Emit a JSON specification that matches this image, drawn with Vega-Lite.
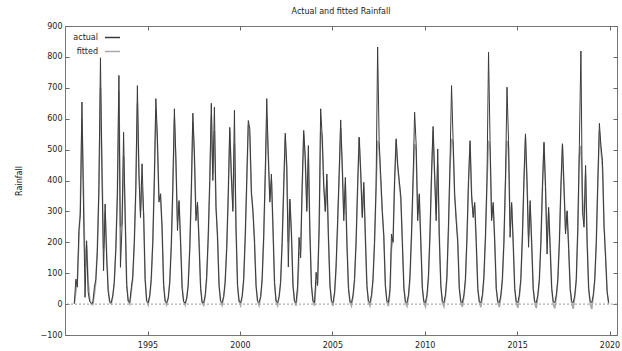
{
  "$schema": "https://vega.github.io/schema/vega-lite/v6.json",
  "width": 552,
  "height": 309,
  "autosize": {"type": "none"},
  "padding": {"left": 65, "top": 26, "right": 5, "bottom": 16},
  "background": "white",
  "title": {"text": "Actual and fitted Rainfall", "fontSize": 8, "fontWeight": "normal", "color": "#222", "offset": 6, "font": "DejaVu Sans"},
  "datasets": {
    "rain": [
{"date":"1991-01-15","actual":2,"fitted":0},{"date":"1991-02-15","actual":81,"fitted":40},{"date":"1991-03-15","actual":55,"fitted":70},{"date":"1991-04-15","actual":238,"fitted":200},{"date":"1991-05-15","actual":290,"fitted":330},{"date":"1991-06-15","actual":654,"fitted":600},{"date":"1991-07-15","actual":330,"fitted":380},{"date":"1991-08-15","actual":22,"fitted":120},{"date":"1991-09-15","actual":205,"fitted":190},{"date":"1991-10-15","actual":40,"fitted":80},{"date":"1991-11-15","actual":8,"fitted":15},{"date":"1991-12-15","actual":3,"fitted":0},
{"date":"1992-01-15","actual":3,"fitted":-2},{"date":"1992-02-15","actual":54,"fitted":30},{"date":"1992-03-15","actual":80,"fitted":70},{"date":"1992-04-15","actual":170,"fitted":190},{"date":"1992-05-15","actual":380,"fitted":360},{"date":"1992-06-15","actual":797,"fitted":700},{"date":"1992-07-15","actual":420,"fitted":450},{"date":"1992-08-15","actual":108,"fitted":180},{"date":"1992-09-15","actual":324,"fitted":300},{"date":"1992-10-15","actual":150,"fitted":170},{"date":"1992-11-15","actual":40,"fitted":50},{"date":"1992-12-15","actual":8,"fitted":5},
{"date":"1993-01-15","actual":5,"fitted":0},{"date":"1993-02-15","actual":30,"fitted":25},{"date":"1993-03-15","actual":70,"fitted":70},{"date":"1993-04-15","actual":180,"fitted":180},{"date":"1993-05-15","actual":350,"fitted":360},{"date":"1993-06-15","actual":740,"fitted":690},{"date":"1993-07-15","actual":119,"fitted":250},{"date":"1993-08-15","actual":250,"fitted":260},{"date":"1993-09-15","actual":556,"fitted":480},{"date":"1993-10-15","actual":292,"fitted":300},{"date":"1993-11-15","actual":60,"fitted":70},{"date":"1993-12-15","actual":10,"fitted":10},
{"date":"1994-01-15","actual":5,"fitted":0},{"date":"1994-02-15","actual":54,"fitted":40},{"date":"1994-03-15","actual":90,"fitted":80},{"date":"1994-04-15","actual":200,"fitted":200},{"date":"1994-05-15","actual":380,"fitted":370},{"date":"1994-06-15","actual":707,"fitted":650},{"date":"1994-07-15","actual":420,"fitted":440},{"date":"1994-08-15","actual":280,"fitted":300},{"date":"1994-09-15","actual":454,"fitted":380},{"date":"1994-10-15","actual":300,"fitted":290},{"date":"1994-11-15","actual":80,"fitted":80},{"date":"1994-12-15","actual":10,"fitted":10},
{"date":"1995-01-15","actual":5,"fitted":-3},{"date":"1995-02-15","actual":30,"fitted":25},{"date":"1995-03-15","actual":80,"fitted":75},{"date":"1995-04-15","actual":200,"fitted":200},{"date":"1995-05-15","actual":400,"fitted":390},{"date":"1995-06-15","actual":665,"fitted":630},{"date":"1995-07-15","actual":540,"fitted":520},{"date":"1995-08-15","actual":330,"fitted":340},{"date":"1995-09-15","actual":357,"fitted":350},{"date":"1995-10-15","actual":250,"fitted":250},{"date":"1995-11-15","actual":60,"fitted":70},{"date":"1995-12-15","actual":10,"fitted":10},
{"date":"1996-01-15","actual":5,"fitted":-3},{"date":"1996-02-15","actual":20,"fitted":20},{"date":"1996-03-15","actual":70,"fitted":70},{"date":"1996-04-15","actual":190,"fitted":190},{"date":"1996-05-15","actual":380,"fitted":370},{"date":"1996-06-15","actual":632,"fitted":600},{"date":"1996-07-15","actual":470,"fitted":460},{"date":"1996-08-15","actual":238,"fitted":270},{"date":"1996-09-15","actual":335,"fitted":330},{"date":"1996-10-15","actual":200,"fitted":210},{"date":"1996-11-15","actual":50,"fitted":60},{"date":"1996-12-15","actual":8,"fitted":8},
{"date":"1997-01-15","actual":3,"fitted":-4},{"date":"1997-02-15","actual":20,"fitted":20},{"date":"1997-03-15","actual":60,"fitted":65},{"date":"1997-04-15","actual":180,"fitted":180},{"date":"1997-05-15","actual":360,"fitted":360},{"date":"1997-06-15","actual":618,"fitted":590},{"date":"1997-07-15","actual":492,"fitted":480},{"date":"1997-08-15","actual":270,"fitted":290},{"date":"1997-09-15","actual":330,"fitted":320},{"date":"1997-10-15","actual":200,"fitted":210},{"date":"1997-11-15","actual":50,"fitted":60},{"date":"1997-12-15","actual":5,"fitted":5},
{"date":"1998-01-15","actual":5,"fitted":-4},{"date":"1998-02-15","actual":30,"fitted":25},{"date":"1998-03-15","actual":90,"fitted":80},{"date":"1998-04-15","actual":220,"fitted":210},{"date":"1998-05-15","actual":400,"fitted":390},{"date":"1998-06-15","actual":650,"fitted":610},{"date":"1998-07-15","actual":400,"fitted":420},{"date":"1998-08-15","actual":637,"fitted":560},{"date":"1998-09-15","actual":313,"fitted":320},{"date":"1998-10-15","actual":220,"fitted":220},{"date":"1998-11-15","actual":60,"fitted":60},{"date":"1998-12-15","actual":10,"fitted":8},
{"date":"1999-01-15","actual":5,"fitted":-4},{"date":"1999-02-15","actual":25,"fitted":25},{"date":"1999-03-15","actual":70,"fitted":70},{"date":"1999-04-15","actual":180,"fitted":180},{"date":"1999-05-15","actual":350,"fitted":350},{"date":"1999-06-15","actual":572,"fitted":560},{"date":"1999-07-15","actual":420,"fitted":420},{"date":"1999-08-15","actual":300,"fitted":310},{"date":"1999-09-15","actual":627,"fitted":520},{"date":"1999-10-15","actual":250,"fitted":260},{"date":"1999-11-15","actual":60,"fitted":60},{"date":"1999-12-15","actual":10,"fitted":8},
{"date":"2000-01-15","actual":5,"fitted":-5},{"date":"2000-02-15","actual":25,"fitted":25},{"date":"2000-03-15","actual":80,"fitted":75},{"date":"2000-04-15","actual":220,"fitted":210},{"date":"2000-05-15","actual":400,"fitted":390},{"date":"2000-06-15","actual":594,"fitted":580},{"date":"2000-07-15","actual":567,"fitted":540},{"date":"2000-08-15","actual":362,"fitted":360},{"date":"2000-09-15","actual":300,"fitted":300},{"date":"2000-10-15","actual":200,"fitted":210},{"date":"2000-11-15","actual":60,"fitted":60},{"date":"2000-12-15","actual":10,"fitted":8},
{"date":"2001-01-15","actual":5,"fitted":-5},{"date":"2001-02-15","actual":25,"fitted":25},{"date":"2001-03-15","actual":80,"fitted":75},{"date":"2001-04-15","actual":220,"fitted":210},{"date":"2001-05-15","actual":420,"fitted":400},{"date":"2001-06-15","actual":665,"fitted":600},{"date":"2001-07-15","actual":480,"fitted":480},{"date":"2001-08-15","actual":330,"fitted":340},{"date":"2001-09-15","actual":421,"fitted":400},{"date":"2001-10-15","actual":250,"fitted":250},{"date":"2001-11-15","actual":70,"fitted":70},{"date":"2001-12-15","actual":10,"fitted":8},
{"date":"2002-01-15","actual":5,"fitted":-5},{"date":"2002-02-15","actual":25,"fitted":25},{"date":"2002-03-15","actual":70,"fitted":70},{"date":"2002-04-15","actual":200,"fitted":200},{"date":"2002-05-15","actual":380,"fitted":370},{"date":"2002-06-15","actual":553,"fitted":540},{"date":"2002-07-15","actual":450,"fitted":440},{"date":"2002-08-15","actual":120,"fitted":200},{"date":"2002-09-15","actual":340,"fitted":330},{"date":"2002-10-15","actual":230,"fitted":230},{"date":"2002-11-15","actual":60,"fitted":60},{"date":"2002-12-15","actual":10,"fitted":8},
{"date":"2003-01-15","actual":5,"fitted":-5},{"date":"2003-02-15","actual":60,"fitted":40},{"date":"2003-03-15","actual":216,"fitted":160},{"date":"2003-04-15","actual":150,"fitted":170},{"date":"2003-05-15","actual":380,"fitted":370},{"date":"2003-06-15","actual":562,"fitted":550},{"date":"2003-07-15","actual":475,"fitted":470},{"date":"2003-08-15","actual":300,"fitted":310},{"date":"2003-09-15","actual":513,"fitted":470},{"date":"2003-10-15","actual":230,"fitted":240},{"date":"2003-11-15","actual":60,"fitted":60},{"date":"2003-12-15","actual":10,"fitted":8},
{"date":"2004-01-15","actual":5,"fitted":-5},{"date":"2004-02-15","actual":103,"fitted":70},{"date":"2004-03-15","actual":60,"fitted":70},{"date":"2004-04-15","actual":250,"fitted":240},{"date":"2004-05-15","actual":632,"fitted":560},{"date":"2004-06-15","actual":540,"fitted":540},{"date":"2004-07-15","actual":380,"fitted":390},{"date":"2004-08-15","actual":300,"fitted":300},{"date":"2004-09-15","actual":421,"fitted":400},{"date":"2004-10-15","actual":220,"fitted":220},{"date":"2004-11-15","actual":60,"fitted":60},{"date":"2004-12-15","actual":10,"fitted":8},
{"date":"2005-01-15","actual":5,"fitted":-6},{"date":"2005-02-15","actual":40,"fitted":35},{"date":"2005-03-15","actual":120,"fitted":110},{"date":"2005-04-15","actual":270,"fitted":250},{"date":"2005-05-15","actual":420,"fitted":410},{"date":"2005-06-15","actual":596,"fitted":570},{"date":"2005-07-15","actual":450,"fitted":450},{"date":"2005-08-15","actual":270,"fitted":290},{"date":"2005-09-15","actual":410,"fitted":390},{"date":"2005-10-15","actual":200,"fitted":210},{"date":"2005-11-15","actual":50,"fitted":60},{"date":"2005-12-15","actual":8,"fitted":6},
{"date":"2006-01-15","actual":5,"fitted":-6},{"date":"2006-02-15","actual":30,"fitted":25},{"date":"2006-03-15","actual":80,"fitted":75},{"date":"2006-04-15","actual":200,"fitted":200},{"date":"2006-05-15","actual":380,"fitted":370},{"date":"2006-06-15","actual":540,"fitted":540},{"date":"2006-07-15","actual":430,"fitted":430},{"date":"2006-08-15","actual":280,"fitted":290},{"date":"2006-09-15","actual":394,"fitted":380},{"date":"2006-10-15","actual":220,"fitted":220},{"date":"2006-11-15","actual":60,"fitted":60},{"date":"2006-12-15","actual":10,"fitted":6},
{"date":"2007-01-15","actual":5,"fitted":-6},{"date":"2007-02-15","actual":30,"fitted":25},{"date":"2007-03-15","actual":80,"fitted":75},{"date":"2007-04-15","actual":200,"fitted":200},{"date":"2007-05-15","actual":380,"fitted":370},{"date":"2007-06-15","actual":832,"fitted":529},{"date":"2007-07-15","actual":529,"fitted":500},{"date":"2007-08-15","actual":416,"fitted":400},{"date":"2007-09-15","actual":300,"fitted":300},{"date":"2007-10-15","actual":220,"fitted":220},{"date":"2007-11-15","actual":60,"fitted":60},{"date":"2007-12-15","actual":10,"fitted":6},
{"date":"2008-01-15","actual":5,"fitted":-7},{"date":"2008-02-15","actual":50,"fitted":40},{"date":"2008-03-15","actual":227,"fitted":180},{"date":"2008-04-15","actual":200,"fitted":210},{"date":"2008-05-15","actual":400,"fitted":390},{"date":"2008-06-15","actual":535,"fitted":530},{"date":"2008-07-15","actual":450,"fitted":450},{"date":"2008-08-15","actual":400,"fitted":390},{"date":"2008-09-15","actual":350,"fitted":340},{"date":"2008-10-15","actual":200,"fitted":210},{"date":"2008-11-15","actual":50,"fitted":55},{"date":"2008-12-15","actual":8,"fitted":5},
{"date":"2009-01-15","actual":5,"fitted":-7},{"date":"2009-02-15","actual":30,"fitted":25},{"date":"2009-03-15","actual":90,"fitted":80},{"date":"2009-04-15","actual":230,"fitted":220},{"date":"2009-05-15","actual":400,"fitted":390},{"date":"2009-06-15","actual":621,"fitted":518},{"date":"2009-07-15","actual":518,"fitted":500},{"date":"2009-08-15","actual":270,"fitted":290},{"date":"2009-09-15","actual":357,"fitted":350},{"date":"2009-10-15","actual":200,"fitted":210},{"date":"2009-11-15","actual":50,"fitted":55},{"date":"2009-12-15","actual":8,"fitted":5},
{"date":"2010-01-15","actual":5,"fitted":-8},{"date":"2010-02-15","actual":30,"fitted":25},{"date":"2010-03-15","actual":90,"fitted":80},{"date":"2010-04-15","actual":230,"fitted":220},{"date":"2010-05-15","actual":420,"fitted":410},{"date":"2010-06-15","actual":575,"fitted":560},{"date":"2010-07-15","actual":420,"fitted":420},{"date":"2010-08-15","actual":270,"fitted":290},{"date":"2010-09-15","actual":502,"fitted":450},{"date":"2010-10-15","actual":220,"fitted":230},{"date":"2010-11-15","actual":60,"fitted":60},{"date":"2010-12-15","actual":10,"fitted":5},
{"date":"2011-01-15","actual":5,"fitted":-8},{"date":"2011-02-15","actual":30,"fitted":25},{"date":"2011-03-15","actual":90,"fitted":80},{"date":"2011-04-15","actual":250,"fitted":240},{"date":"2011-05-15","actual":450,"fitted":440},{"date":"2011-06-15","actual":707,"fitted":535},{"date":"2011-07-15","actual":535,"fitted":520},{"date":"2011-08-15","actual":357,"fitted":350},{"date":"2011-09-15","actual":270,"fitted":280},{"date":"2011-10-15","actual":200,"fitted":210},{"date":"2011-11-15","actual":50,"fitted":55},{"date":"2011-12-15","actual":8,"fitted":5},
{"date":"2012-01-15","actual":5,"fitted":-9},{"date":"2012-02-15","actual":30,"fitted":25},{"date":"2012-03-15","actual":80,"fitted":75},{"date":"2012-04-15","actual":220,"fitted":210},{"date":"2012-05-15","actual":400,"fitted":390},{"date":"2012-06-15","actual":529,"fitted":520},{"date":"2012-07-15","actual":350,"fitted":360},{"date":"2012-08-15","actual":280,"fitted":290},{"date":"2012-09-15","actual":329,"fitted":320},{"date":"2012-10-15","actual":200,"fitted":200},{"date":"2012-11-15","actual":50,"fitted":50},{"date":"2012-12-15","actual":8,"fitted":4},
{"date":"2013-01-15","actual":5,"fitted":-10},{"date":"2013-02-15","actual":30,"fitted":25},{"date":"2013-03-15","actual":90,"fitted":80},{"date":"2013-04-15","actual":220,"fitted":210},{"date":"2013-05-15","actual":400,"fitted":390},{"date":"2013-06-15","actual":815,"fitted":529},{"date":"2013-07-15","actual":529,"fitted":500},{"date":"2013-08-15","actual":270,"fitted":280},{"date":"2013-09-15","actual":329,"fitted":320},{"date":"2013-10-15","actual":200,"fitted":210},{"date":"2013-11-15","actual":50,"fitted":50},{"date":"2013-12-15","actual":8,"fitted":4},
{"date":"2014-01-15","actual":5,"fitted":-10},{"date":"2014-02-15","actual":30,"fitted":25},{"date":"2014-03-15","actual":80,"fitted":75},{"date":"2014-04-15","actual":200,"fitted":200},{"date":"2014-05-15","actual":400,"fitted":390},{"date":"2014-06-15","actual":702,"fitted":529},{"date":"2014-07-15","actual":529,"fitted":510},{"date":"2014-08-15","actual":216,"fitted":250},{"date":"2014-09-15","actual":329,"fitted":320},{"date":"2014-10-15","actual":200,"fitted":200},{"date":"2014-11-15","actual":50,"fitted":50},{"date":"2014-12-15","actual":8,"fitted":3},
{"date":"2015-01-15","actual":5,"fitted":-12},{"date":"2015-02-15","actual":30,"fitted":25},{"date":"2015-03-15","actual":80,"fitted":75},{"date":"2015-04-15","actual":220,"fitted":210},{"date":"2015-05-15","actual":400,"fitted":390},{"date":"2015-06-15","actual":551,"fitted":540},{"date":"2015-07-15","actual":400,"fitted":400},{"date":"2015-08-15","actual":184,"fitted":220},{"date":"2015-09-15","actual":335,"fitted":320},{"date":"2015-10-15","actual":200,"fitted":200},{"date":"2015-11-15","actual":50,"fitted":50},{"date":"2015-12-15","actual":8,"fitted":2},
{"date":"2016-01-15","actual":5,"fitted":-13},{"date":"2016-02-15","actual":30,"fitted":25},{"date":"2016-03-15","actual":80,"fitted":75},{"date":"2016-04-15","actual":200,"fitted":200},{"date":"2016-05-15","actual":380,"fitted":370},{"date":"2016-06-15","actual":524,"fitted":520},{"date":"2016-07-15","actual":380,"fitted":380},{"date":"2016-08-15","actual":162,"fitted":200},{"date":"2016-09-15","actual":313,"fitted":300},{"date":"2016-10-15","actual":180,"fitted":190},{"date":"2016-11-15","actual":50,"fitted":50},{"date":"2016-12-15","actual":8,"fitted":0},
{"date":"2017-01-15","actual":5,"fitted":-14},{"date":"2017-02-15","actual":30,"fitted":25},{"date":"2017-03-15","actual":80,"fitted":75},{"date":"2017-04-15","actual":200,"fitted":200},{"date":"2017-05-15","actual":380,"fitted":370},{"date":"2017-06-15","actual":519,"fitted":515},{"date":"2017-07-15","actual":380,"fitted":380},{"date":"2017-08-15","actual":227,"fitted":240},{"date":"2017-09-15","actual":302,"fitted":300},{"date":"2017-10-15","actual":180,"fitted":190},{"date":"2017-11-15","actual":50,"fitted":50},{"date":"2017-12-15","actual":8,"fitted":0},
{"date":"2018-01-15","actual":5,"fitted":-15},{"date":"2018-02-15","actual":30,"fitted":25},{"date":"2018-03-15","actual":80,"fitted":75},{"date":"2018-04-15","actual":250,"fitted":240},{"date":"2018-05-15","actual":513,"fitted":480},{"date":"2018-06-15","actual":819,"fitted":513},{"date":"2018-07-15","actual":300,"fitted":350},{"date":"2018-08-15","actual":249,"fitted":260},{"date":"2018-09-15","actual":449,"fitted":420},{"date":"2018-10-15","actual":200,"fitted":210},{"date":"2018-11-15","actual":50,"fitted":50},{"date":"2018-12-15","actual":8,"fitted":0},
{"date":"2019-01-15","actual":5,"fitted":-16},{"date":"2019-02-15","actual":30,"fitted":25},{"date":"2019-03-15","actual":80,"fitted":75},{"date":"2019-04-15","actual":200,"fitted":200},{"date":"2019-05-15","actual":400,"fitted":390},{"date":"2019-06-15","actual":585,"fitted":560},{"date":"2019-07-15","actual":513,"fitted":500},{"date":"2019-08-15","actual":465,"fitted":440},{"date":"2019-09-15","actual":249,"fitted":260},{"date":"2019-10-15","actual":150,"fitted":160},{"date":"2019-11-15","actual":40,"fitted":40},{"date":"2019-12-15","actual":5,"fitted":0}
    ],
    "zero": [{"z": 0}]
  },
  "layer": [
    {
      "data": {"name": "zero"},
      "mark": {"type": "rule", "color": "#999", "strokeDash": [2, 2], "strokeWidth": 1},
      "encoding": {"y": {"field": "z", "type": "quantitative", "scale": {"domain": [-100, 900], "nice": false}, "axis": null}}
    },
    {
      "data": {"name": "rain"},
      "mark": {"type": "line", "strokeWidth": 1.5, "interpolate": "linear"},
      "encoding": {
        "x": {"field": "date", "type": "temporal",
              "scale": {"type": "utc", "domain": [{"year": 1990, "month": 7, "date": 15, "utc": true}, {"year": 2020, "month": 5, "date": 28, "utc": true}]},
              "axis": {"orient": "bottom", "title": null, "format": "%Y", "labelPadding": 10,
                       "values": [{"year": 1995, "utc": true}, {"year": 2000, "utc": true}, {"year": 2005, "utc": true}, {"year": 2010, "utc": true}, {"year": 2015, "utc": true}, {"year": 2020, "utc": true}]}},
        "y": {"field": "fitted", "type": "quantitative", "scale": {"domain": [-100, 900], "nice": false},
              "axis": {"orient": "left", "title": "Rainfall", "values": [-100, 0, 100, 200, 300, 400, 500, 600, 700, 800, 900], "titlePadding": 17, "titleColor": "#111"}},
        "color": {"datum": "fitted", "type": "nominal",
                  "scale": {"domain": ["actual", "fitted"], "range": ["#3a3a3a", "#a8a8a8"]},
                  "legend": {"orient": "none", "legendX": 0, "legendY": 3, "title": null, "symbolType": "stroke",
                             "symbolSize": 225, "symbolStrokeWidth": 1.5, "labelFontSize": 8, "labelColor": "#222",
                             "labelAlign": "right", "labelOffset": -23, "symbolOffset": 39, "rowPadding": 1, "padding": 0}}
      }
    },
    {
      "data": {"name": "rain"},
      "mark": {"type": "line", "strokeWidth": 1, "interpolate": "linear"},
      "encoding": {
        "x": {"field": "date", "type": "temporal",
              "axis": {"orient": "top", "title": null, "labels": false,
                       "values": [{"year": 1995, "utc": true}, {"year": 2000, "utc": true}, {"year": 2005, "utc": true}, {"year": 2010, "utc": true}, {"year": 2015, "utc": true}, {"year": 2020, "utc": true}]}},
        "y": {"field": "actual", "type": "quantitative",
              "axis": {"orient": "right", "title": null, "labels": false, "values": [-100, 0, 100, 200, 300, 400, 500, 600, 700, 800, 900]}},
        "color": {"datum": "actual", "type": "nominal"}
      }
    }
  ],
  "resolve": {"axis": {"x": "independent", "y": "independent"}},
  "config": {
    "font": "DejaVu Sans",
    "view": {"stroke": "#777", "strokeWidth": 1},
    "axis": {"domain": false, "grid": false, "tickSize": -4, "tickColor": "#666", "labelFontSize": 8, "labelColor": "#222",
             "labelPadding": 7, "titleFontSize": 8, "titleFontWeight": "normal", "titleColor": "#222"}
  }
}
